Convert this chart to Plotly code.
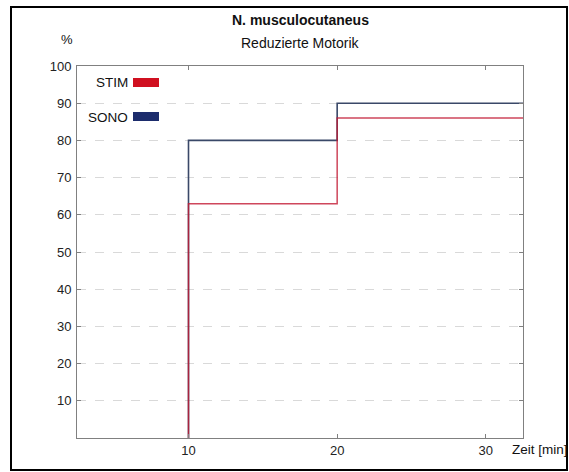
import plotly.graph_objects as go

# Time points (minutes) and cumulative share of patients with reduced motor function (%)
zeit = [10, 10, 20, 32.5]
stim = [0, 63, 86, 86]
sono = [0, 80, 90, 90]

x_ticks = [10, 20, 30]
y_ticks = [10, 20, 30, 40, 50, 60, 70, 80, 90, 100]

W, H = 569, 472
L, R, T, B = 77, 46, 66, 34
PW, PH = W - L - R, H - T - B


def px(x):
    return (x - L) / PW


def py(y):
    return (H - B - y) / PH


FONT = "Liberation Sans, Arial, sans-serif"
RED = "#d01020"
NAVY = "#1c2c6c"

fig = go.Figure()
fig.add_trace(go.Scatter(x=zeit, y=sono, mode="lines", line_shape="hv",
                         line=dict(color="#3a4868", width=1.6), name="SONO",
                         showlegend=False, hoverinfo="skip"))
fig.add_trace(go.Scatter(x=zeit, y=stim, mode="lines", line_shape="hv",
                         line=dict(color="#c41a34", width=1.5), opacity=0.8,
                         name="STIM", showlegend=False, hoverinfo="skip"))

axis_common = dict(showline=True, linecolor="#808080", linewidth=1, mirror="ticks",
                   ticks="inside", ticklen=4, tickcolor="#808080", zeroline=False,
                   tickfont=dict(family=FONT, size=13, color="#222222"))

fig.update_xaxes(range=[2.5, 32.5], tickvals=x_ticks, showgrid=False, **axis_common)
fig.update_yaxes(range=[0, 100], tickvals=y_ticks, showgrid=True, gridcolor="#d9d9d9",
                 griddash="dash", gridwidth=1, ticklabelstandoff=2, **axis_common)

annotations = [
    dict(text="<b>N. musculocutaneus</b>", x=0.5, y=py(20), size=14, anchor="center"),
    dict(text="Reduzierte Motorik", x=0.5, y=py(43), size=14, anchor="center"),
    dict(text="%", x=px(67), y=py(39), size=13, anchor="center"),
    dict(text="Zeit [min]", x=px(540), y=py(449), size=13.5, anchor="center"),
    dict(text="STIM", x=px(130), y=py(83), size=13.5, anchor="right"),
    dict(text="SONO", x=px(130), y=py(117), size=13.5, anchor="right"),
]
fig.update_layout(annotations=[
    dict(text=a["text"], x=a["x"], y=a["y"], xref="paper", yref="paper",
         showarrow=False, xanchor=a["anchor"], yanchor="middle",
         font=dict(family=FONT, size=a["size"], color="#111111"))
    for a in annotations
])

shapes = [
    # outer frame
    dict(type="rect", xref="paper", yref="paper", x0=px(11), x1=px(567), y0=py(470), y1=py(7),
         line=dict(color="#000000", width=2), fillcolor="rgba(0,0,0,0)", layer="below"),
    # legend swatches
    dict(type="rect", xref="paper", yref="paper", x0=px(133), x1=px(159), y0=py(87), y1=py(78),
         line=dict(width=0), fillcolor=RED),
    dict(type="rect", xref="paper", yref="paper", x0=px(133), x1=px(159), y0=py(121), y1=py(112),
         line=dict(width=0), fillcolor=NAVY),
]

fig.update_layout(
    width=W, height=H, shapes=shapes,
    margin=dict(l=L, r=R, t=T, b=B, pad=0),
    paper_bgcolor="white", plot_bgcolor="white",
    showlegend=False,
)

fig.write_html("out.html")
